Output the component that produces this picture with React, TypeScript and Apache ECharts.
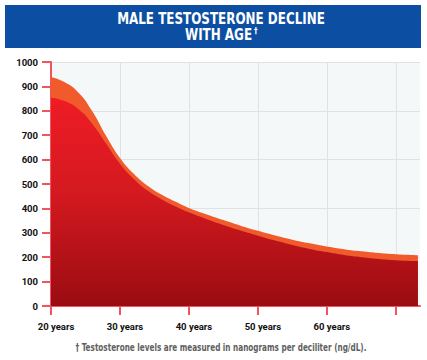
import React, { useEffect, useRef } from "react";
import * as echarts from "echarts";

const ages = [20, 22, 24, 26, 28, 30, 32, 34, 36, 38, 40, 42.5, 45, 47.5, 50, 52.5, 55, 57.5, 60, 62.5, 65, 67.5, 70, 73.2];
const upperLevels = [937, 917, 874, 797, 697, 607, 542, 493, 457, 428, 402, 376, 352, 329, 308, 289, 272, 257, 244, 233, 224, 217, 212, 208];
const lowerLevels = [855, 840, 806, 746, 665, 583, 521, 473, 438, 409, 384, 357, 332, 309, 288, 268, 250, 234, 221, 209, 200, 193, 188, 184];
const xTickValues = [20, 30, 40, 50, 60, 70];
const xLabelValues = [20, 30, 40, 50, 60];
const titleLine1 = "MALE TESTOSTERONE DECLINE";
const titleLine2 = "WITH AGE";
const footnote = "† Testosterone levels are measured in nanograms per deciliter (ng/dL).";

const TITLE_FONT = "'DejaVu Sans Condensed', 'DejaVu Sans', sans-serif";
const LABEL_FONT = "Roboto, 'Liberation Sans', sans-serif";
const AXIS_RED = "#f2545f";

export default function App() {
  const ref = useRef<HTMLDivElement>(null);
  useEffect(() => {
    if (!ref.current) return;
    const chart = echarts.init(ref.current, null, { renderer: "svg" });
    const upper = ages.map((a, i) => [a, upperLevels[i]]);
    const lower = ages.map((a, i) => [a, lowerLevels[i]]);
    chart.setOption({
      animation: false,
      backgroundColor: "#ffffff",
      grid: {
        left: 51,
        top: 62,
        width: 369,
        height: 244,
        show: true,
        backgroundColor: "#f5f8f8",
        borderWidth: 0,
      },
      xAxis: {
        type: "value",
        min: 20,
        max: 73.5,
        interval: 10,
        axisLine: { show: true, onZero: false, lineStyle: { color: AXIS_RED, width: 2 } },
        axisTick: { show: true, length: 9, customValues: xTickValues, lineStyle: { color: AXIS_RED, width: 2 } },
        axisLabel: {
          show: true,
          customValues: xLabelValues,
          margin: 15,
          padding: [0, 0, 0, 10],
          color: "#111",
          fontFamily: LABEL_FONT,
          fontWeight: "bold",
          fontSize: 9.5,
          formatter: (v: number) => `${v} years`,
        },
        splitLine: { show: true, lineStyle: { color: "#dfe3e3", width: 1 } },
      },
      yAxis: [
        {
          type: "value",
          min: 0,
          max: 1000,
          interval: 100,
          axisLine: { show: true, lineStyle: { color: AXIS_RED, width: 2 } },
          axisTick: { show: true, length: 9, lineStyle: { color: AXIS_RED, width: 2 } },
          axisLabel: {
            margin: 13,
            color: "#111",
            fontFamily: LABEL_FONT,
            fontWeight: "bold",
            fontSize: 9.5,
            formatter: (v: number) => String(v),
          },
          splitLine: { show: false },
        },
        {
          type: "value",
          min: 0,
          max: 1000,
          interval: 200,
          position: "left",
          axisLine: { show: false },
          axisTick: { show: false },
          axisLabel: { show: false },
          splitLine: { show: true, lineStyle: { color: "#dfe3e3", width: 1 } },
        },
      ],
      series: [
        {
          type: "line",
          data: upper,
          smooth: 0.5,
          symbol: "none",
          lineStyle: { width: 0 },
          areaStyle: { color: "#f15a2b", opacity: 1 },
          z: 3,
        },
        {
          type: "line",
          data: lower,
          smooth: 0.5,
          symbol: "none",
          lineStyle: { width: 0 },
          areaStyle: {
            opacity: 1,
            color: new echarts.graphic.LinearGradient(0, 0, 0, 1, [
              { offset: 0, color: "#ee1c25" },
              { offset: 0.45, color: "#d51920" },
              { offset: 1, color: "#9a0c12" },
            ]),
          },
          z: 4,
        },
      ],
      graphic: [
        {
          type: "rect",
          shape: { x: 5, y: 5, width: 416, height: 43 },
          style: { fill: "#0c4ea2" },
          z: 10,
        },
        {
          type: "text",
          x: 221,
          y: 18.5,
          scaleX: 0.83,
          style: {
            text: titleLine1,
            fill: "#ffffff",
            font: `bold 16px ${TITLE_FONT}`,
            align: "center",
            verticalAlign: "middle",
          },
          z: 11,
        },
        {
          type: "text",
          x: 218.5,
          y: 34,
          scaleX: 0.83,
          style: {
            text: titleLine2,
            fill: "#ffffff",
            font: `bold 16px ${TITLE_FONT}`,
            align: "center",
            verticalAlign: "middle",
          },
          z: 11,
        },
        {
          type: "text",
          x: 254,
          y: 31,
          style: {
            text: "†",
            fill: "#ffffff",
            font: `bold 8px ${TITLE_FONT}`,
            align: "left",
            verticalAlign: "middle",
          },
          z: 11,
        },
        {
          type: "text",
          x: 221,
          y: 347.5,
          scaleX: 0.81,
          style: {
            text: footnote,
            fill: "#5f5f5f",
            font: `bold 10px ${TITLE_FONT}`,
            align: "center",
            verticalAlign: "middle",
          },
          z: 11,
        },
      ],
    });
    return () => chart.dispose();
  }, []);
  return <div ref={ref} style={{ width: 427, height: 360, position: "absolute", left: 0, top: 0 }} />;
}
